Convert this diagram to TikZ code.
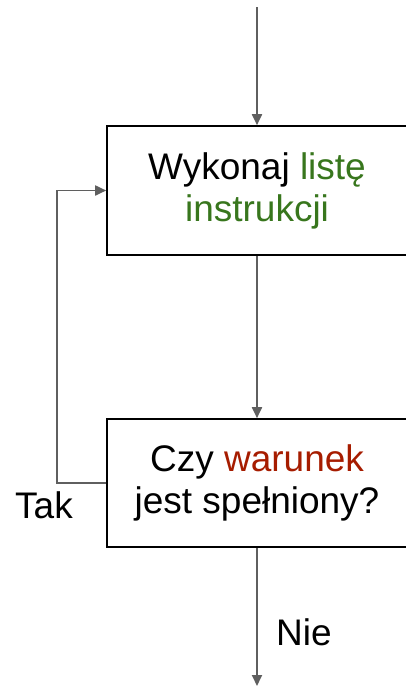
\documentclass[tikz,border=0pt]{standalone}
\usepackage{fontspec}
\setmainfont{Liberation Sans}
\usetikzlibrary{
    arrows.meta,
    positioning
}
\definecolor{instrgreen}{HTML}{38761D}
\definecolor{condred}{HTML}{A61C00}
\definecolor{linegray}{HTML}{5F5F5F}
\tikzset{
    process/.style = {
        rectangle,
        draw,
        line width=1.6pt,
        minimum width=300pt,
        minimum height=129pt,
        align=center,
        font=\fontsize{37}{42}\selectfont
    },
    label/.style = {
        font=\fontsize{37}{42}\selectfont
    },
    arrow/.style = {
        -{Triangle[length=11pt,width=10pt]},
        draw=linegray,
        line width=1.8pt
    }
}

\begin{document}
\begin{tikzpicture}[x=1pt,y=-1pt]
\useasboundingbox (0,0) rectangle (405,686);
\node[process] (work) at (257,190.5)
    {Wykonaj \textcolor{instrgreen}{listę}\\\textcolor{instrgreen}{instrukcji}};
\node[process, minimum height=128pt] (check) at (257,483)
    {Czy \textcolor{condred}{warunek}\\jest spełniony?};
\coordinate (start) at (257,7);
\coordinate (stop) at (257,686);
\draw[arrow] (start) -- (work);
\draw[arrow] (work) -- (check);
\draw[arrow] (check) -- (stop);
\draw[arrow] (check.west) -- ++(-49,0) |- (work.west);
% labels of the branches
\node[label] (yes) at (44,505) {Tak};
\node[label] (no) at (304,632) {Nie};
\end{tikzpicture}
\end{document}
